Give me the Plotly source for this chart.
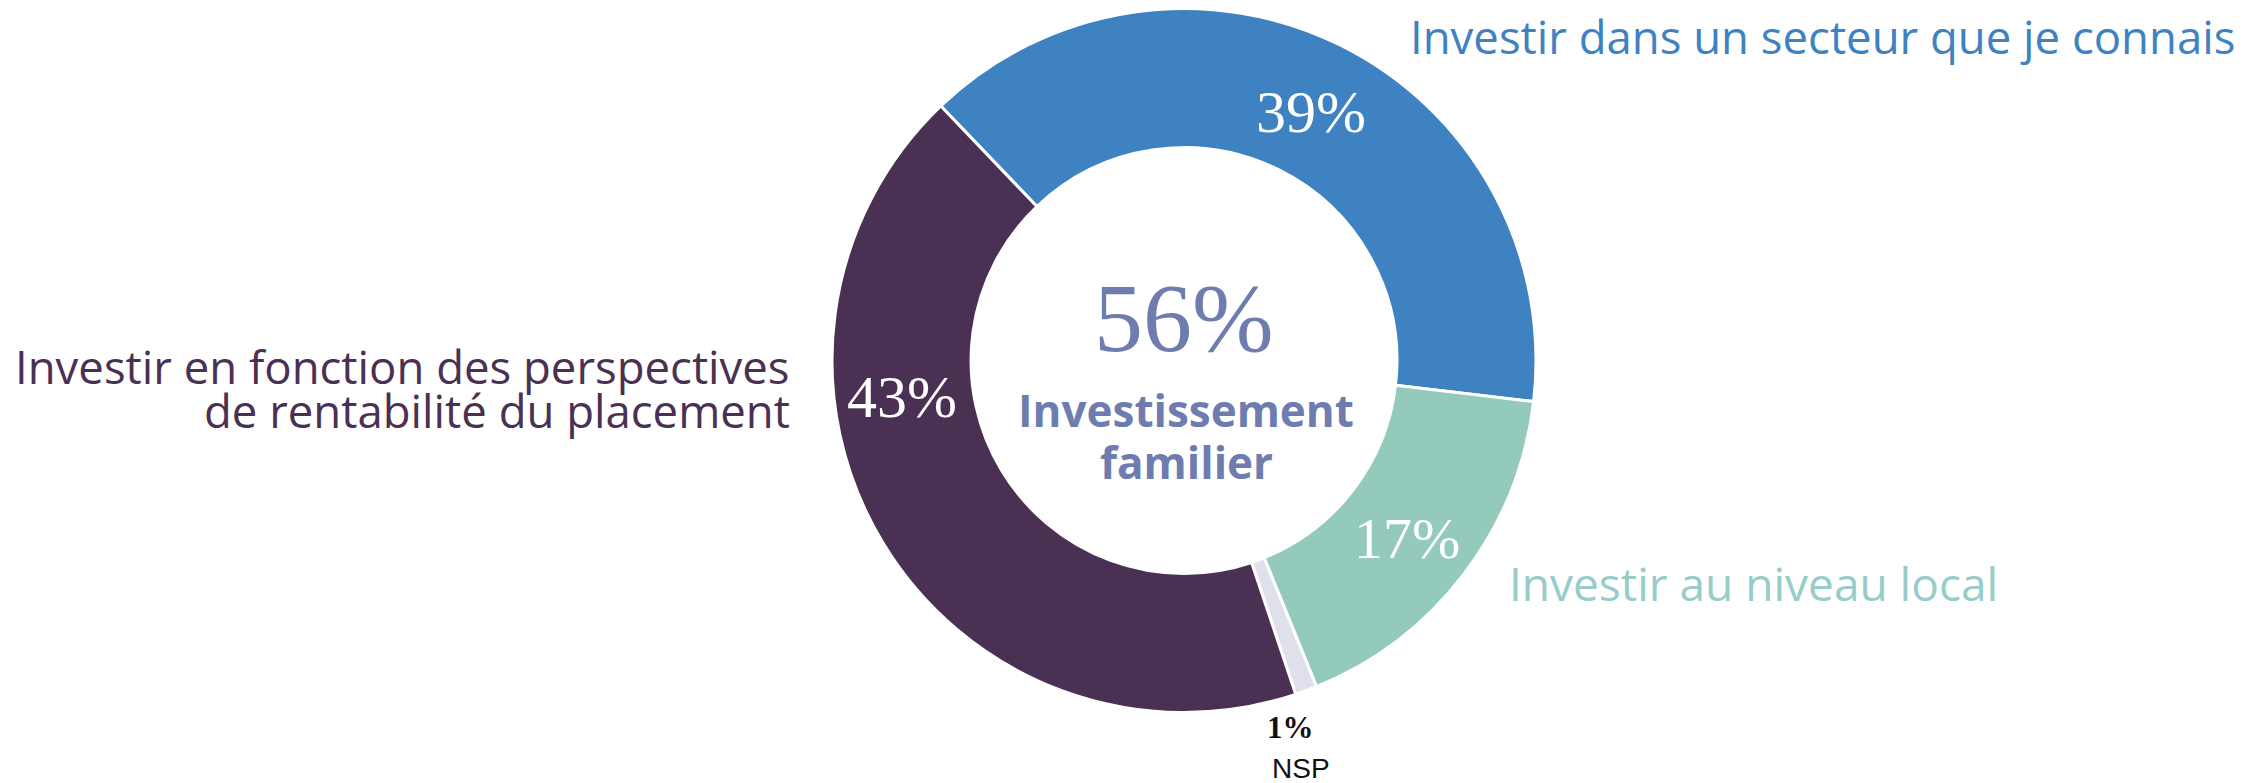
import plotly.graph_objects as go

# ---- data ----
categories = [
    "Investir dans un secteur que je connais",
    "Investir au niveau local",
    "NSP",
    "Investir en fonction des perspectives de rentabilité du placement",
]
values = [39, 17, 1, 43]
colors = ["#3E82C1", "#93CABB", "#DFE0EC", "#4A3052"]
center_value = 56
center_label = ["Investissement", "familier"]

W, H = 2265, 783


def px(x):
    return x / W


def py(y):
    return 1 - y / H


cx, cy, R = 1184, 360.5, 352

fig = go.Figure(
    go.Pie(
        labels=categories,
        values=values,
        marker=dict(colors=colors, line=dict(color="white", width=3)),
        hole=0.605,
        sort=False,
        direction="clockwise",
        rotation=-43.7,
        textinfo="none",
        hoverinfo="label+percent",
        showlegend=False,
        domain=dict(x=[px(cx - R), px(cx + R)], y=[py(cy + R), py(cy - R)]),
    )
)

SANS = "Open Sans, Lato, sans-serif"
SERIF = "Liberation Serif, DejaVu Serif, serif"

ann = []


def add(text, x, y, size, color, family, xanchor="center", yanchor="middle", bold=False):
    if bold:
        text = "<b>" + text + "</b>"
    ann.append(dict(text=text, x=px(x), y=py(y), xref="paper", yref="paper",
                    xanchor=xanchor, yanchor=yanchor, showarrow=False,
                    font=dict(size=size, color=color, family=family)))


# slice percentages
add(f"{values[0]}%", 1311, 112, 60, "white", SERIF)
add(f"{values[1]}%", 1407, 538, 58, "white", SERIF)
add(f"{values[3]}%", 902, 397, 60, "white", SERIF)
add(f"<b>{values[2]}%</b>", 1290, 727, 31, "#111111", SERIF)
add(categories[2], 1301, 768, 28, "#111111", "Liberation Sans, Arial, sans-serif")

# category labels
add(categories[0], 1408, 36, 45.5, colors[0], SANS, xanchor="left")
add(categories[1], 1507, 583, 46, "#97CCC8", SANS, xanchor="left")
add("Investir en fonction des perspectives", 792, 366, 45.5, colors[3], SANS, xanchor="right")
add("de rentabilité du placement", 792, 410, 45.5, colors[3], SANS, xanchor="right")

# centre
add(f"{center_value}%", 1184, 318, 98, "#6F7CAF", SERIF)
add(center_label[0], 1186, 410, 44, "#6F7CAF", SANS, bold=True)
add(center_label[1], 1186, 462, 44, "#6F7CAF", SANS, bold=True)

fig.update_layout(
    width=W, height=H,
    margin=dict(l=0, r=0, t=0, b=0),
    paper_bgcolor="white", plot_bgcolor="white",
    annotations=ann,
)

fig.write_html(
    "out.html",
    config={"displayModeBar": False},
    post_script="document.body.style.margin='0';document.body.style.overflow='hidden';",
)
